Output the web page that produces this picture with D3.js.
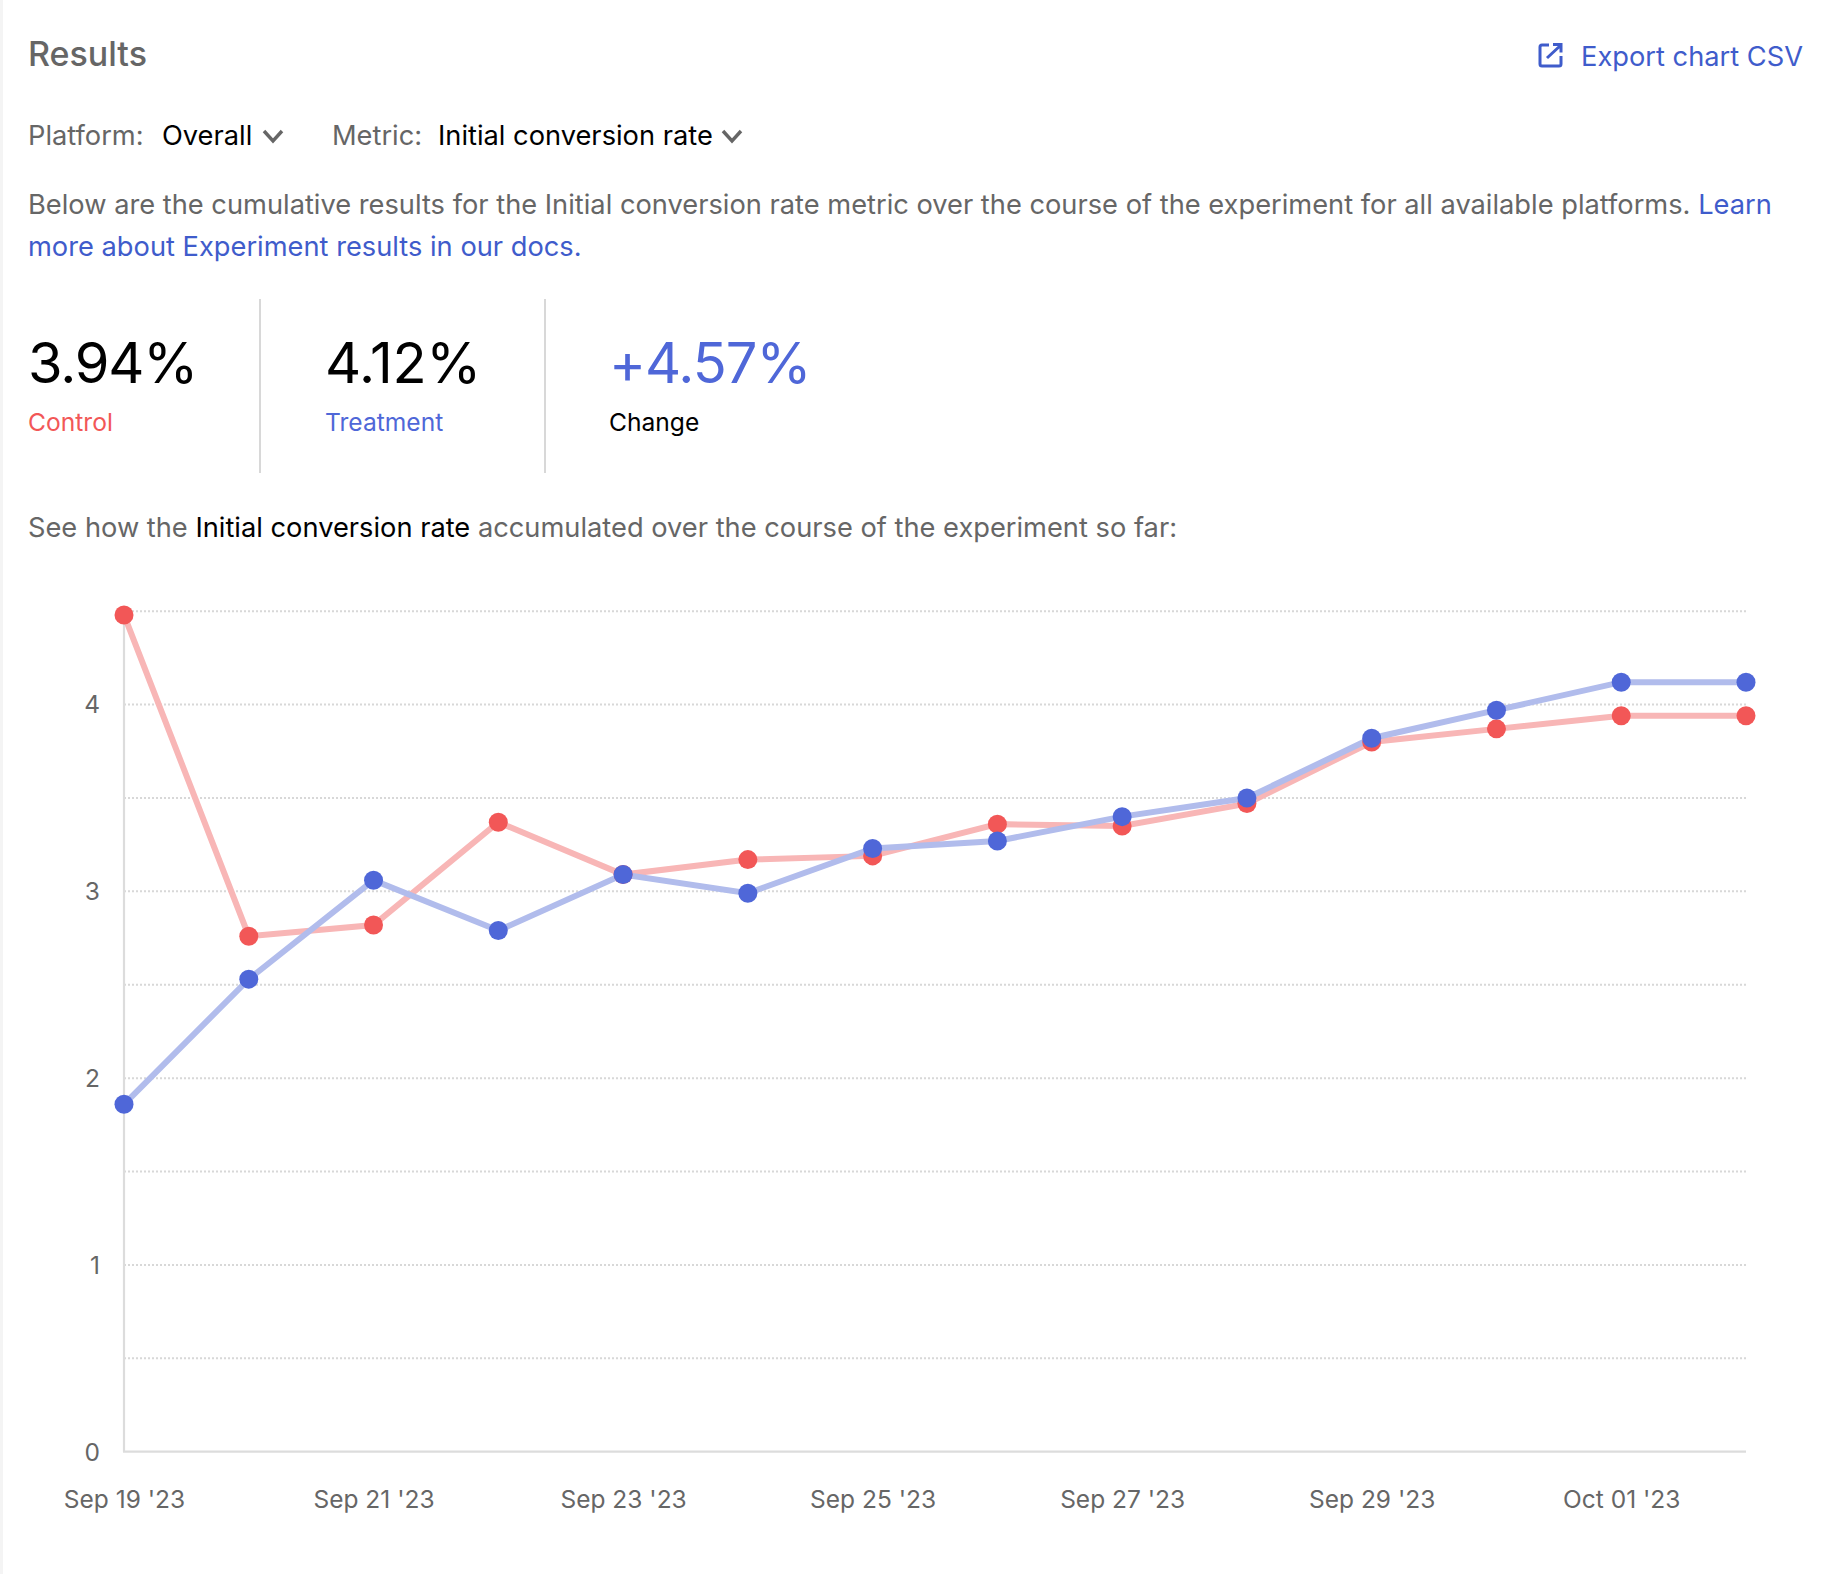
<!DOCTYPE html>
<html>
<head>
<meta charset="utf-8">
<title>Results</title>
<script src="https://cdn.jsdelivr.net/npm/d3@7"></script>
<style>
  html, body { margin: 0; padding: 0; background: #fff; }
  svg { display: block; }
  text { font-family: Inter, "Noto Sans", sans-serif; }
  .grid line { stroke: #d8d8d8; stroke-width: 2; stroke-dasharray: 2 2; }
  .grid .domain, .xaxis .tick line { display: none; }
  .domainline { stroke: #dcdcdc; stroke-width: 2.2; }
  .tick text { fill: #666; font-size: 24.5px; }
</style>
</head>
<body>
<div id="chart"></div>
<script>
// values
const dates = ["2023-09-19", "2023-09-20", "2023-09-21", "2023-09-22", "2023-09-23", "2023-09-24", "2023-09-25",
               "2023-09-26", "2023-09-27", "2023-09-28", "2023-09-29", "2023-09-30", "2023-10-01", "2023-10-02"];
const control = [4.48, 2.76, 2.82, 3.37, 3.09, 3.17, 3.19, 3.36, 3.35, 3.47, 3.80, 3.87, 3.94, 3.94];
const treatment = [1.86, 2.53, 3.06, 2.79, 3.09, 2.99, 3.23, 3.27, 3.40, 3.50, 3.82, 3.97, 4.12, 4.12];
const xTickDates = ["2023-09-19", "2023-09-21", "2023-09-23", "2023-09-25", "2023-09-27", "2023-09-29", "2023-10-01"];
const gridValues = [0.5, 1, 1.5, 2, 2.5, 3, 3.5, 4, 4.5];
const yLabels = [0, 1, 2, 3, 4];

const parseDate = d3.utcParse("%Y-%m-%d");
const formatDate = d3.utcFormat("%b %d '%y");

const RED = "#f25757", RED_LIGHT = "#f8b6b6";
const BLUE = "#4f67d8", BLUE_LIGHT = "#b1bcec";
const LINK = "#3f5ccb", GRAY = "#666666";
const BODY = 27.25;

const svg = d3.select("#chart").append("svg")
    .attr("width", 1832)
    .attr("height", 1574);

svg.append("rect").attr("width", 1832).attr("height", 1574).attr("fill", "#fff");
svg.append("rect").attr("width", 3).attr("height", 1574).attr("fill", "#f4f4f4");

function label(x, y, size, color, parts, weight) {
    const t = svg.append("text")
        .attr("x", x)
        .attr("y", y)
        .style("font-size", size + "px")
        .style("font-weight", weight || 400)
        .attr("fill", color);
    parts.forEach(p => {
        if (typeof p === "string") t.append("tspan").text(p);
        else t.append("tspan").attr("fill", p[1]).text(p[0]);
    });
    return t;
}

// header
label(28, 65.500, 34, GRAY, ["Results"], 500);
label(1803, 66, BODY, LINK, ["Export chart CSV"]).attr("text-anchor", "end");
svg.append("path")
    .attr("d", "M1549 45h-7a2 2 0 0 0-2 2v17a2 2 0 0 0 2 2h17a2 2 0 0 0 2-2v-8M1553 44.500h8v8M1561 45l-14 13")
    .attr("fill", "none").attr("stroke", LINK).attr("stroke-width", 3);

// dropdowns
label(28, 145, BODY, GRAY, ["Platform:"]);
label(162, 145, BODY, "#000", ["Overall"]);
label(332, 145, BODY, GRAY, ["Metric:"]);
label(438, 145, BODY, "#000", ["Initial conversion rate"]);
[264, 723].forEach(x => {
    svg.append("path")
        .attr("d", `M${x} 131l9 10l9 -10`)
        .attr("fill", "none").attr("stroke", GRAY).attr("stroke-width", 3.4);
});

// description
label(28, 214, BODY, GRAY, ["Below are the cumulative results for the Initial conversion rate metric over the course of the experiment for all available platforms. ", ["Learn", LINK]]);
label(28, 256, BODY, LINK, ["more about Experiment results in our docs."]);

// summary numbers
label(28, 383, 56, "#000", ["3.94%"]).style("letter-spacing", "-1.2px");
label(28, 431, 24.6, RED, ["Control"]);
label(325, 383, 56, "#000", ["4.12%"]).style("letter-spacing", "-0.3px");
label(325, 431, 24.6, BLUE, ["Treatment"]);
label(609, 383, 56, BLUE, ["+4.57%"]).style("letter-spacing", "-1px");
label(609, 431, 24.6, "#000", ["Change"]);
[260, 545].forEach(x => {
    svg.append("line").attr("x1", x).attr("x2", x).attr("y1", 299).attr("y2", 473)
        .attr("stroke", "#d8d8d8").attr("stroke-width", 2);
});

label(28, 537, BODY, GRAY, ["See how the ", ["Initial conversion rate", "#000"], " accumulated over the course of the experiment so far:"]);

// chart
const x = d3.scaleUtc()
    .domain(d3.extent(dates, parseDate))
    .range([124, 1746]);
const y = d3.scaleLinear()
    .domain([0, 4.5])
    .range([1451.7, 611.2]);

svg.append("g")
    .attr("class", "grid")
    .attr("transform", "translate(124,-0.5)")
    .call(d3.axisRight(y).tickValues(gridValues).tickSize(1622).tickFormat(""));

svg.append("g")
    .attr("class", "yaxis")
    .attr("transform", "translate(100,0.5)")
    .call(d3.axisLeft(y).tickValues(yLabels).tickSize(0).tickPadding(0).tickFormat(d3.format("d")))
    .call(g => g.select(".domain").remove());

svg.append("g")
    .attr("class", "xaxis")
    .attr("transform", "translate(0,1491)")
    .call(d3.axisBottom(x).tickValues(xTickDates.map(parseDate)).tickSize(0).tickPadding(0).tickFormat(formatDate))
    .call(g => g.select(".domain").remove());

svg.append("line").attr("class", "domainline")
    .attr("x1", x.range()[0]).attr("x2", x.range()[0]).attr("y1", y(4.5)).attr("y2", y(0));
svg.append("line").attr("class", "domainline")
    .attr("x1", x.range()[0] - 1).attr("x2", x.range()[1]).attr("y1", y(0)).attr("y2", y(0));

const line = d3.line()
    .x((d, i) => x(parseDate(dates[i])))
    .y(d => y(d));

const series = [
    { values: control, color: RED, light: RED_LIGHT },
    { values: treatment, color: BLUE, light: BLUE_LIGHT }
];

series.forEach(s => {
    svg.append("path")
        .datum(s.values)
        .attr("d", line)
        .attr("fill", "none")
        .attr("stroke", s.light)
        .attr("stroke-width", 6);
});

series.forEach(s => {
    svg.append("g").selectAll("circle")
        .data(s.values)
        .enter().append("circle")
        .attr("cx", (d, i) => x(parseDate(dates[i])))
        .attr("cy", d => y(d))
        .attr("r", 9.5)
        .attr("fill", s.color);
});
</script>
</body>
</html>
